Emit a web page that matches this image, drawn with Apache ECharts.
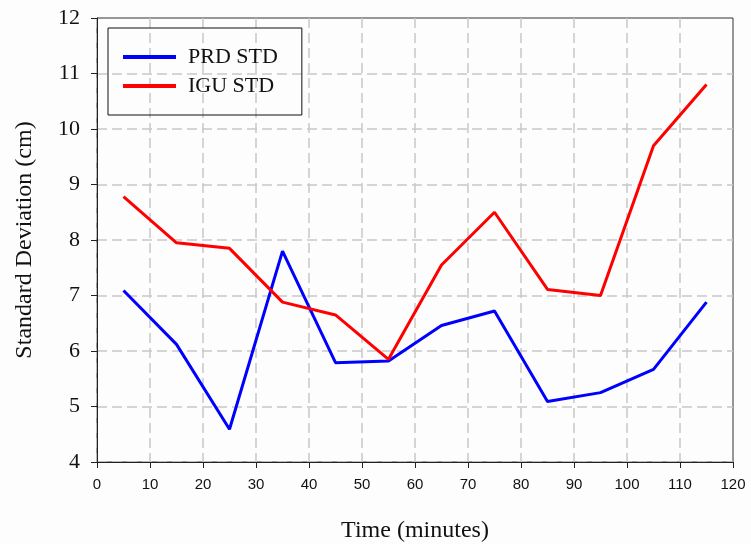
<!DOCTYPE html>
<html>
<head>
<meta charset="utf-8">
<title>Standard Deviation</title>
<script src="https://cdn.jsdelivr.net/npm/echarts@6/dist/echarts.min.js"></script>
<style>
  html, body { margin: 0; padding: 0; background: #fdfdfd; }
  #chart { width: 751px; height: 544px; }
</style>
</head>
<body>
<div id="chart"></div>
<script>
  // time (minutes) and standard deviation (cm)
  const times = [5, 15, 25, 35, 45, 55, 65, 75, 85, 95, 105, 115]
  const prdStd = [7.09, 6.12, 4.59, 7.80, 5.79, 5.82, 6.46, 6.72, 5.09, 5.25, 5.67, 6.88]
  const iguStd = [8.78, 7.95, 7.85, 6.88, 6.65, 5.85, 7.55, 8.50, 7.11, 7.00, 9.70, 10.80]

  const serif = '"Liberation Serif", "DejaVu Serif", serif'
  const sans = '"Liberation Sans", Arial, sans-serif'

  const toPairs = (ys) => times.map((t, i) => [t, ys[i]])

  const chart = echarts.init(document.getElementById("chart"))

  const lineSeries = (name, color, ys) => ({
    name: name,
    type: "line",
    data: toPairs(ys),
    symbol: "none",
    lineStyle: { color: color, width: 3 },
    itemStyle: { color: color }
  })

  const gridLine = {
    show: true,
    showMaxLine: false,
    lineStyle: { color: "#c8c8c8", type: [10, 5], width: 1.5 }
  }

  chart.setOption({
    animation: false,
    backgroundColor: "#fdfdfd",
    grid: {
      left: 97,
      right: 18,
      top: 18,
      bottom: 82,
      outerBoundsMode: "none",
      show: true,
      borderColor: "#333",
      borderWidth: 1
    },
    legend: {
      left: 108,
      top: 28,
      orient: "vertical",
      icon: "rect",
      itemWidth: 53,
      itemHeight: 4,
      itemGap: 7,
      padding: [18, 24, 18, 15],
      borderColor: "#111",
      borderWidth: 1,
      textStyle: {
        fontFamily: serif,
        fontSize: 22,
        color: "#111",
        lineHeight: 22,
        padding: [0, 0, 0, 7]
      },
      data: ["PRD STD", "IGU STD"]
    },
    xAxis: {
      type: "value",
      min: 0,
      max: 120,
      interval: 10,
      name: "Time (minutes)",
      nameLocation: "middle",
      nameGap: 57,
      nameTextStyle: { fontFamily: serif, fontSize: 24, color: "#111" },
      axisLine: { lineStyle: { color: "#222", width: 1 } },
      axisTick: { show: true, length: 6, lineStyle: { color: "#222" } },
      axisLabel: { fontFamily: sans, fontSize: 15, color: "#111", margin: 15 },
      splitLine: gridLine
    },
    yAxis: {
      type: "value",
      min: 4,
      max: 12,
      interval: 1,
      name: "Standard Deviation (cm)",
      nameLocation: "middle",
      nameGap: 60,
      nameTextStyle: { fontFamily: serif, fontSize: 24, color: "#111" },
      axisLine: { show: true, lineStyle: { color: "#222", width: 1 } },
      axisTick: { show: true, length: 6, lineStyle: { color: "#222" } },
      axisLabel: { fontFamily: serif, fontSize: 22, color: "#111", margin: 17 },
      splitLine: gridLine
    },
    series: [
      lineSeries("PRD STD", "#0000ff", prdStd),
      lineSeries("IGU STD", "#ff0000", iguStd)
    ]
  })

  window.addEventListener("resize", () => chart.resize())
</script>
</body>
</html>
